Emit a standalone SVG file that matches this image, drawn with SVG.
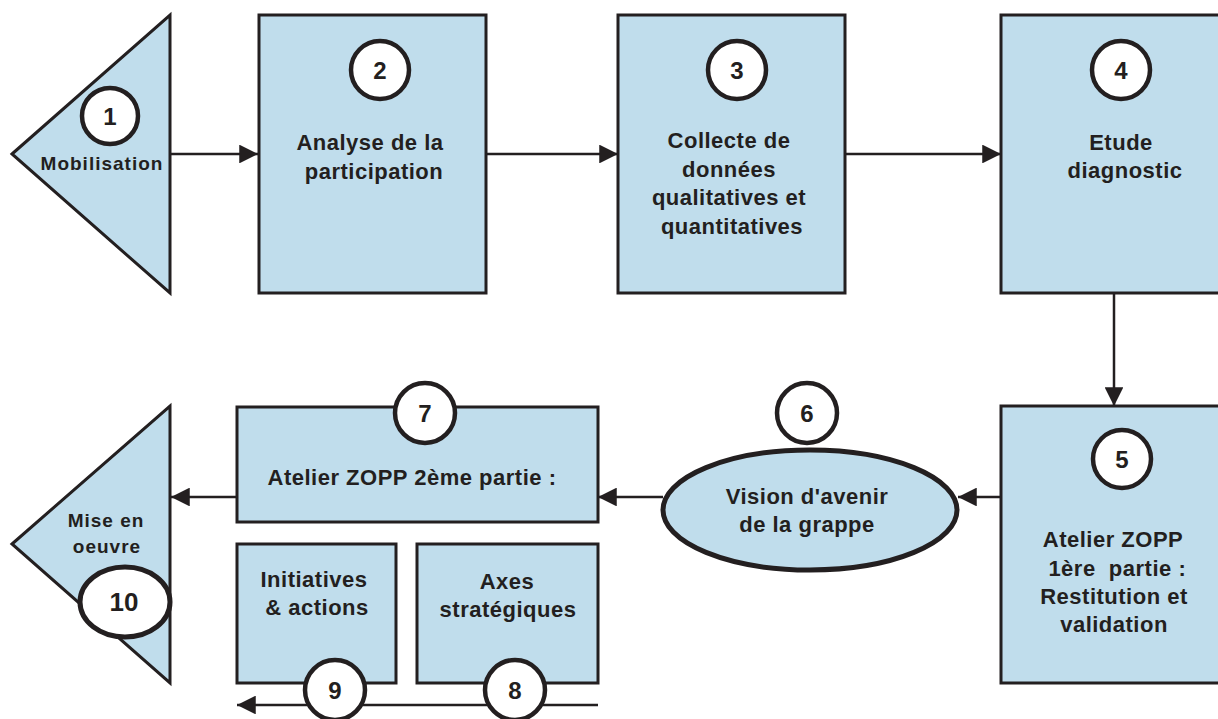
<svg xmlns="http://www.w3.org/2000/svg" width="1218" height="719" viewBox="0 0 1218 719">
  <style>
    .shape { fill: #c0ddec; stroke: #231f20; stroke-width: 3; }
    .ring { fill: #ffffff; stroke: #231f20; stroke-width: 4.5; }
    .oval { fill: #c0ddec; stroke: #231f20; stroke-width: 5; }
    .label { font-family: "Liberation Sans", Arial, sans-serif; font-weight: bold; font-size: 22px; letter-spacing: 0.5px; fill: #231f20; text-anchor: middle; }
    .small { font-size: 19px; letter-spacing: 1px; }
    .num { font-family: "Liberation Sans", Arial, sans-serif; font-weight: bold; font-size: 24px; fill: #231f20; text-anchor: middle; dominant-baseline: central; }
    .link { fill: none; stroke: #231f20; stroke-width: 2.5; }
  </style>
  <defs>
    <marker id="arrow" viewBox="0 0 10 10" refX="10" refY="5" markerWidth="7.5" markerHeight="7.5" markerUnits="strokeWidth" orient="auto">
      <path d="M0,0 L10,5 L0,10 Z" fill="#231f20"/>
    </marker>
  </defs>
  <rect width="1218" height="719" fill="#ffffff"/>

  <!-- connectors -->
  <g id="connectors">
    <line class="link" x1="170" y1="154" x2="258" y2="154" marker-end="url(#arrow)"/>
    <line class="link" x1="486" y1="154" x2="618" y2="154" marker-end="url(#arrow)"/>
    <line class="link" x1="845" y1="154" x2="1001" y2="154" marker-end="url(#arrow)"/>
    <line class="link" x1="1114" y1="293" x2="1114" y2="406" marker-end="url(#arrow)"/>
    <line class="link" x1="1001" y1="497" x2="958" y2="497" marker-end="url(#arrow)"/>
    <line class="link" x1="663" y1="497" x2="598" y2="497" marker-end="url(#arrow)"/>
    <line class="link" x1="237" y1="497" x2="171" y2="497" marker-end="url(#arrow)"/>
    <line class="link" x1="598" y1="705" x2="237" y2="705" marker-end="url(#arrow)"/>
  </g>

  <!-- 1 Mobilisation -->
  <g id="node1">
    <polygon class="shape" points="12,154 170,15 170,293"/>
    <circle class="ring" cx="110" cy="116" r="28"/>
    <text class="num" x="110" y="116">1</text>
    <text class="label small" x="102" y="170">Mobilisation</text>
  </g>

  <!-- 2 Analyse de la participation -->
  <g id="node2">
    <rect class="shape" x="259" y="15" width="227" height="278"/>
    <circle class="ring" cx="380" cy="70" r="29"/>
    <text class="num" x="380" y="70">2</text>
    <text class="label" x="370" y="150">Analyse de la</text>
    <text class="label" x="374" y="179">participation</text>
  </g>

  <!-- 3 Collecte de données -->
  <g id="node3">
    <rect class="shape" x="618" y="15" width="227" height="278"/>
    <circle class="ring" cx="737" cy="70" r="29"/>
    <text class="num" x="737" y="70">3</text>
    <text class="label" x="729" y="148">Collecte de</text>
    <text class="label" x="729" y="177">données</text>
    <text class="label" x="729" y="205">qualitatives et</text>
    <text class="label" x="732" y="234">quantitatives</text>
  </g>

  <!-- 4 Etude diagnostic -->
  <g id="node4">
    <rect class="shape" x="1001" y="15" width="230" height="278"/>
    <circle class="ring" cx="1121" cy="70" r="29"/>
    <text class="num" x="1121" y="70">4</text>
    <text class="label" x="1121" y="150">Etude</text>
    <text class="label" x="1125" y="178">diagnostic</text>
  </g>

  <!-- 5 Atelier ZOPP 1ère partie -->
  <g id="node5">
    <rect class="shape" x="1001" y="406" width="230" height="277"/>
    <circle class="ring" cx="1122" cy="459" r="29"/>
    <text class="num" x="1122" y="459">5</text>
    <text class="label" x="1113" y="547">Atelier ZOPP</text>
    <text class="label" x="1114" y="576" xml:space="preserve"> 1ère  partie :</text>
    <text class="label" x="1114" y="604">Restitution et</text>
    <text class="label" x="1114" y="632">validation</text>
  </g>

  <!-- 6 Vision d'avenir -->
  <g id="node6">
    <ellipse class="oval" cx="810" cy="510" rx="147" ry="60"/>
    <circle class="ring" cx="807" cy="413" r="30"/>
    <text class="num" x="807" y="413">6</text>
    <text class="label" x="807" y="504">Vision d'avenir</text>
    <text class="label" x="807" y="532">de la grappe</text>
  </g>

  <!-- 7 Atelier ZOPP 2ème partie -->
  <g id="node7">
    <rect class="shape" x="237" y="407" width="361" height="115"/>
    <circle class="ring" cx="425" cy="413" r="30"/>
    <text class="num" x="425" y="413">7</text>
    <text class="label" x="412" y="485">Atelier ZOPP 2ème partie :</text>
  </g>

  <!-- 9 Initiatives & actions -->
  <g id="node9">
    <rect class="shape" x="237" y="544" width="159" height="139"/>
    <text class="label" x="314" y="587">Initiatives</text>
    <text class="label" x="317" y="615">&amp; actions</text>
  </g>

  <!-- 8 Axes stratégiques -->
  <g id="node8">
    <rect class="shape" x="417" y="544" width="181" height="139"/>
    <text class="label" x="507" y="589">Axes</text>
    <text class="label" x="508" y="617">stratégiques</text>
  </g>

  <!-- step markers on the bottom line -->
  <g id="marker9">
    <circle class="ring" cx="335" cy="690" r="30"/>
    <text class="num" x="335" y="690">9</text>
  </g>
  <g id="marker8">
    <circle class="ring" cx="515" cy="690" r="30"/>
    <text class="num" x="515" y="690">8</text>
  </g>

  <!-- 10 Mise en oeuvre -->
  <g id="node10">
    <polygon class="shape" points="12,544 170,406 170,683"/>
    <text class="label small" x="106" y="527">Mise en</text>
    <text class="label small" x="107" y="553">oeuvre</text>
    <ellipse class="oval" cx="125" cy="602" rx="45" ry="35" style="fill:#ffffff"/>
    <text class="num" x="124" y="602" style="font-size:26px">10</text>
  </g>
</svg>
